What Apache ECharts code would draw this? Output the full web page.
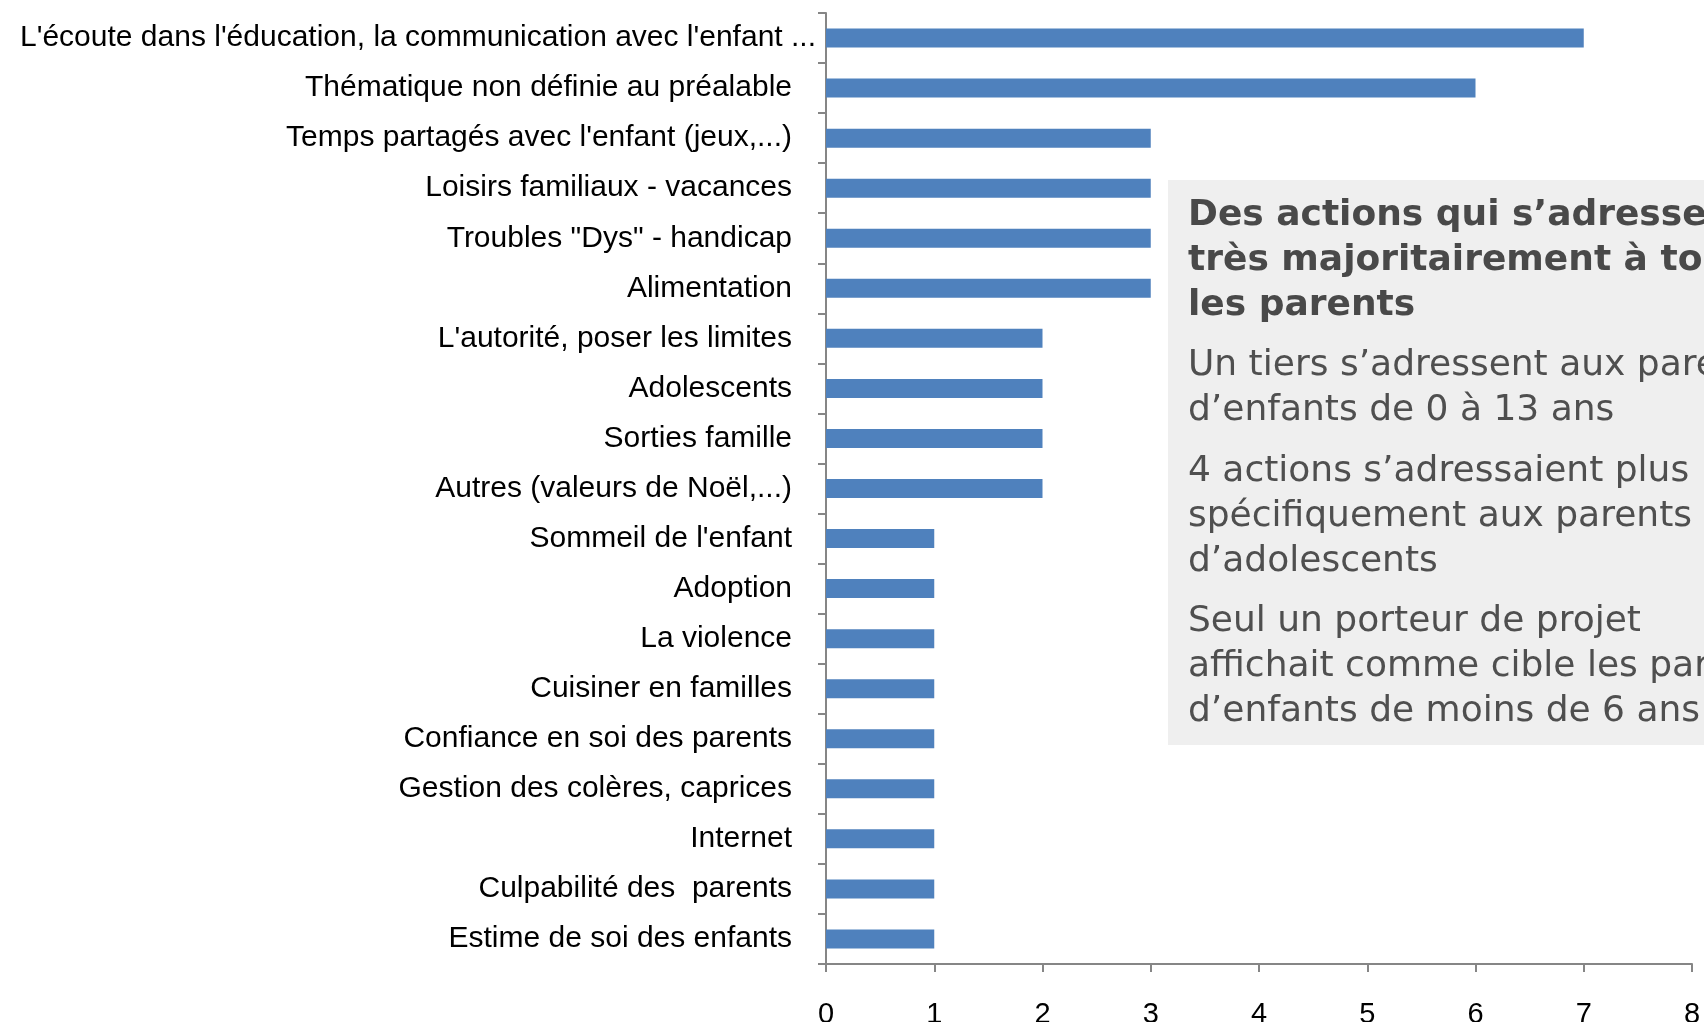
<!DOCTYPE html>
<html>
<head>
<meta charset="utf-8">
<script src="https://cdn.jsdelivr.net/npm/echarts@6/dist/echarts.min.js"></script>
<style>html,body{margin:0;padding:0;background:#fff;}#c{width:1704px;height:1022px;}</style>
</head>
<body>
<div id="c"></div>
<script>
const categories = [
  "L'écoute dans l'éducation, la communication avec l'enfant ...",
  "Thématique non définie au préalable",
  "Temps partagés avec l'enfant (jeux,...)",
  "Loisirs familiaux - vacances",
  "Troubles \"Dys\" - handicap",
  "Alimentation",
  "L'autorité, poser les limites",
  "Adolescents",
  "Sorties famille",
  "Autres (valeurs de Noël,...)",
  "Sommeil de l'enfant",
  "Adoption",
  "La violence",
  "Cuisiner en familles",
  "Confiance en soi des parents",
  "Gestion des colères, caprices",
  "Internet",
  "Culpabilité des  parents",
  "Estime de soi des enfants"
];
const values = [7, 6, 3, 3, 3, 3, 2, 2, 2, 2, 1, 1, 1, 1, 1, 1, 1, 1, 1];
const xTicks = [0, 1, 2, 3, 4, 5, 6, 7, 8];

const boxTitle = ["Des actions qui s’adressent", "très majoritairement à tous", "les parents"];
const boxParas = [
  ["Un tiers s’adressent aux parents", "d’enfants de 0 à 13 ans"],
  ["4 actions s’adressaient plus", "spécifiquement aux parents", "d’adolescents"],
  ["Seul un porteur de projet", "affichait comme cible les parents", "d’enfants de moins de 6 ans"]
];

const labelFont = "'Liberation Sans', Arial, sans-serif";
const chart = echarts.init(document.getElementById('c'), null, {renderer: 'canvas'});

const graphics = [{
  type: 'rect', shape: {x: 1168, y: 180, width: 560, height: 565},
  style: {fill: '#EFEFEF'}, z: 0
}];
let y = 216;
boxTitle.forEach(function (t) {
  graphics.push({type: 'text', x: 1188, y: y, style: {text: t, fill: '#494949', font: 'bold 36px "DejaVu Sans"', textVerticalAlign: 'middle'}, z: 2});
  y += 45;
});
const paraStarts = [366, 472, 622];
boxParas.forEach(function (p, i) {
  let yy = paraStarts[i];
  p.forEach(function (t) {
    graphics.push({type: 'text', x: 1188, y: yy, style: {text: t, fill: '#4F4F4F', font: '36px "DejaVu Sans"', textVerticalAlign: 'middle'}, z: 2});
    yy += 45;
  });
});

chart.setOption({
  animation: false,
  backgroundColor: '#ffffff',
  grid: {left: 826, right: 12, top: 13, bottom: 58, containLabel: false, outerBoundsMode: 'none'},
  xAxis: {
    type: 'value', min: 0, max: 8, interval: 1,
    axisLine: {show: true, lineStyle: {color: '#868686', width: 2}},
    axisTick: {show: true, length: 8, lineStyle: {color: '#868686', width: 2}},
    splitLine: {show: false},
    axisLabel: {color: '#000', fontSize: 29, fontFamily: labelFont, margin: 36}
  },
  yAxis: {
    type: 'category', data: categories, inverse: true,
    axisLine: {show: true, lineStyle: {color: '#868686', width: 2}},
    axisTick: {show: true, length: 8, lineStyle: {color: '#868686', width: 2}},
    axisLabel: {
      color: '#000', fontSize: 30, fontFamily: labelFont, margin: 10,
      formatter: function (v, i) { return i === 0 ? v : '{p|' + v + '}'; },
      rich: {p: {fontSize: 30, fontFamily: labelFont, color: '#000', padding: [0, 24, 0, 0]}}
    }
  },
  series: [{
    type: 'bar', data: values, barWidth: 19,
    itemStyle: {color: '#4F81BD'}
  }],
  graphic: graphics
});
</script>
</body>
</html>
